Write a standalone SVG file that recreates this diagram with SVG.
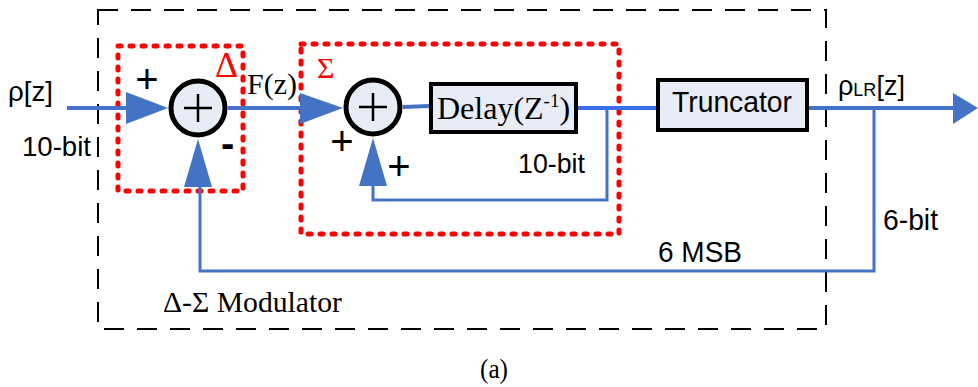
<svg xmlns="http://www.w3.org/2000/svg" width="978" height="387" viewBox="0 0 978 387">
<style>
.sig{stroke:#4472C4;stroke-width:4;fill:none}
.thin{stroke:#4472C4;stroke-width:3;fill:none}
.arr{fill:#4472C4;stroke:none}
.sum{fill:#E7ECF7;stroke:#000;stroke-width:5}
.box{fill:#E7ECF7;stroke:#000;stroke-width:4}
.red{fill:none;stroke:#FF0000;stroke-width:5;stroke-dasharray:3 9;stroke-linecap:round}
.outer{fill:none;stroke:#000;stroke-width:2;stroke-dasharray:20 13}
.ar{font-family:"Liberation Sans",Arial,sans-serif;fill:#000}
.tm{font-family:"Liberation Serif","Times New Roman",serif;fill:#000}
.rt{font-family:"Liberation Serif","Times New Roman",serif;fill:#FF0000}
.pl{font-family:"Liberation Sans",Arial,sans-serif;fill:#000;font-size:40px;text-anchor:middle}
</style>
<rect width="978" height="387" fill="#fff"/>
<g id="outer-box">
<rect class="outer" x="98" y="10" width="728" height="319"/>
<text class="tm" x="163" y="312" font-size="28.5" textLength="179" lengthAdjust="spacingAndGlyphs">Δ-Σ Modulator</text>
</g>
<g id="delta-box">
<rect class="red" x="118" y="46" width="125" height="145"/>
<text class="rt" x="215" y="77" font-size="36">Δ</text>
</g>
<g id="sigma-box">
<rect class="red" x="301" y="44" width="318" height="190"/>
<text class="rt" x="317" y="78" font-size="30">Σ</text>
</g>
<g id="connectors">
<line class="sig" x1="67" y1="108" x2="128" y2="108"/>
<polygon class="arr" points="126,92 168,108 126,124"/>
<line class="sig" x1="228" y1="108" x2="302" y2="108"/>
<polygon class="arr" points="300,93 343,108 300,124"/>
<line class="sig" x1="403" y1="107" x2="430" y2="106"/>
<line x1="576" y1="108" x2="657" y2="108" stroke="#3A6EE8" stroke-width="4"/>
<polyline class="thin" points="607,108 607,200 373,200 373,184"/>
<polygon class="arr" points="359,186 373,138 387,186"/>
<line class="sig" x1="807" y1="108" x2="955" y2="108"/>
<polygon class="arr" points="953,93 978,108 953,124"/>
<polyline class="thin" points="874,108 874,271 200,271 200,186"/>
<polygon class="arr" points="184,187 198,139 212,187"/>
</g>
<g id="sum1">
<circle class="sum" cx="198" cy="108" r="27"/>
<line x1="184" y1="108" x2="212" y2="108" stroke="#000" stroke-width="2.5"/>
<line x1="198" y1="94" x2="198" y2="122" stroke="#000" stroke-width="2.5"/>
</g>
<g id="sum2">
<circle class="sum" cx="373" cy="107" r="27"/>
<line x1="359" y1="107" x2="387" y2="107" stroke="#000" stroke-width="2.5"/>
<line x1="373" y1="93" x2="373" y2="121" stroke="#000" stroke-width="2.5"/>
</g>
<g id="delay">
<rect class="box" x="431" y="84" width="145" height="48"/>
<text class="tm" x="437" y="119" font-size="32">Delay(Z<tspan font-size="19" dy="-12">-1</tspan><tspan font-size="32" dy="12">)</tspan></text>
</g>
<g id="truncator">
<rect class="box" x="658" y="80" width="149" height="50"/>
<text class="ar" x="672" y="112" font-size="30" textLength="120" lengthAdjust="spacingAndGlyphs">Truncator</text>
</g>
<g id="labels">
<text class="ar" x="8" y="101" font-size="27" textLength="45" lengthAdjust="spacingAndGlyphs">ρ[z]</text>
<text class="ar" x="22" y="156" font-size="28" textLength="69" lengthAdjust="spacingAndGlyphs">10-bit</text>
<text class="pl" x="147" y="93">+</text>
<text class="ar" x="221" y="157" font-size="40" font-weight="bold">-</text>
<text class="tm" x="247" y="94" font-size="30" textLength="50" lengthAdjust="spacingAndGlyphs">F(z)</text>
<text class="pl" x="342" y="155">+</text>
<text class="pl" x="399" y="180">+</text>
<text class="ar" x="518" y="173" font-size="28" textLength="67" lengthAdjust="spacingAndGlyphs">10-bit</text>
<text class="ar" x="838" y="95" font-size="27">ρ<tspan font-size="18" dy="1">LR</tspan><tspan dy="-1">[z]</tspan></text>
<text class="ar" x="883" y="230" font-size="29" textLength="55" lengthAdjust="spacingAndGlyphs">6-bit</text>
<text class="ar" x="658" y="262" font-size="29" textLength="84" lengthAdjust="spacingAndGlyphs">6 MSB</text>
<text class="tm" x="480" y="378" font-size="27" textLength="28" lengthAdjust="spacingAndGlyphs">(a)</text>
</g>
</svg>
